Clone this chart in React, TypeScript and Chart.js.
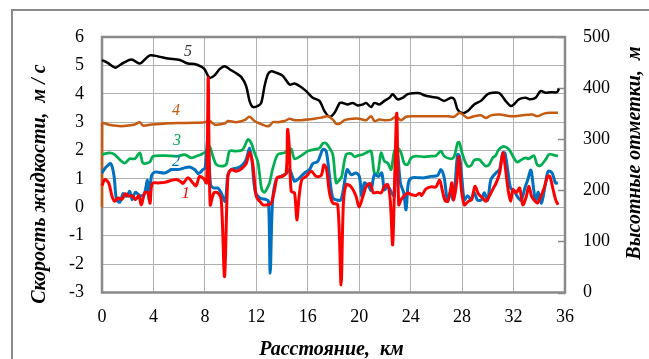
import React, { useEffect, useRef } from "react";
import { Chart, registerables } from "chart.js";

Chart.register(...registerables);

// ---- Data (distance in km, speed in m/s, elevation in m) ----
const kmRed = [0, 0.21, 0.52, 0.78, 0.99, 1.25, 1.56, 1.82, 2.08, 2.34, 2.6, 2.86, 3.06, 3.32, 3.58, 3.74, 3.9, 4.36, 4.88, 5.4, 5.79, 6.08, 6.29, 6.68, 7.07, 7.32, 7.58, 7.92, 8.13, 8.26, 8.41, 8.7, 9.01, 9.27, 9.53, 9.79, 10.05, 10.43, 10.82, 11.21, 11.47, 11.73, 11.99, 12.27, 12.51, 12.9, 13.16, 13.42, 13.62, 13.99, 14.32, 14.43, 14.56, 14.71, 14.97, 15.15, 15.33, 15.54, 15.88, 16.27, 16.65, 17.04, 17.25, 17.46, 17.69, 17.95, 18.33, 18.59, 18.77, 19.0, 19.37, 19.75, 19.99, 20.27, 20.53, 20.84, 21.1, 21.39, 21.7, 21.96, 22.22, 22.42, 22.6, 22.76, 22.92, 23.07, 23.25, 23.46, 23.77, 24.03, 24.42, 24.7, 24.85, 25.19, 25.58, 25.96, 26.25, 26.46, 26.66, 26.87, 27.05, 27.21, 27.36, 27.57, 27.75, 27.93, 28.17, 28.48, 28.74, 29.0, 29.26, 29.59, 29.85, 30.11, 30.4, 30.65, 30.91, 31.17, 31.38, 31.58, 31.77, 31.95, 32.21, 32.47, 32.72, 32.98, 33.19, 33.4, 33.61, 33.86, 34.12, 34.38, 34.64, 34.82, 35.05, 35.26, 35.45];
const speedRed = [0.76, 0.98, 0.86, 0.39, 0.21, 0.33, 0.29, 0.48, 0.39, 0.41, 0.27, 0.41, 0.09, 0.51, 0.51, 0.15, 0.84, 0.86, 0.88, 0.95, 0.98, 0.92, 0.84, 1.04, 0.86, 0.76, 1.09, 1.0, 0.86, 4.56, 0.09, 0.51, 0.51, 0.27, -2.44, 1.09, 1.33, 1.27, 1.35, 1.54, 1.94, 1.5, 0.39, 0.21, 0.09, 0.09, 0.15, 0.62, 1.04, 1.09, 1.21, 2.74, 2.15, 0.56, 0.51, -0.44, 0.39, 0.98, 1.09, 1.27, 1.09, 1.12, 1.5, 1.33, 0.51, 0.15, 0.09, -2.73, 0.15, 0.8, 0.72, 0.39, 0.01, 0.36, 0.72, 0.84, 0.51, 0.53, 0.51, 0.74, 0.8, 0.21, -1.32, 1.09, 3.31, 0.09, 0.27, 0.39, 0.51, 0.45, 0.42, 0.5, 0.42, 0.65, 0.72, 0.72, 0.95, 0.6, 0.25, 0.21, 0.51, 0.86, 0.25, 0.86, 1.78, 0.68, 0.09, 0.21, 0.27, 0.74, 0.48, 0.33, 0.21, 0.39, 0.65, 0.86, 1.2, 1.92, 1.33, 0.6, 0.21, 0.62, 0.51, 0.68, 0.09, 0.36, 0.74, 0.39, 0.25, 0.15, 0.39, 0.68, 1.09, 1.09, 0.68, 0.29, 0.09];

const kmBlue = [0, 0.26, 0.68, 0.94, 1.12, 1.38, 1.64, 1.9, 2.16, 2.34, 2.6, 2.94, 3.27, 3.53, 3.66, 3.84, 4.1, 4.88, 5.4, 5.9, 6.42, 6.81, 7.2, 7.51, 7.84, 8.02, 8.23, 8.44, 8.7, 9.01, 9.27, 9.58, 9.79, 10.05, 10.56, 10.95, 11.21, 11.47, 11.65, 11.91, 12.27, 12.77, 12.95, 13.08, 13.26, 13.55, 13.93, 14.32, 14.58, 14.97, 15.36, 15.75, 16.14, 16.39, 16.78, 17.17, 17.43, 17.69, 17.95, 18.33, 18.59, 18.85, 19.06, 19.37, 19.75, 20.01, 20.2, 20.4, 20.71, 20.92, 21.18, 21.49, 21.75, 21.96, 22.22, 22.53, 22.73, 22.94, 23.2, 23.46, 23.64, 23.82, 24.08, 24.7, 25.06, 25.58, 26.09, 26.35, 26.61, 26.87, 27.13, 27.29, 27.44, 27.65, 27.8, 27.99, 28.17, 28.43, 28.69, 28.94, 29.2, 29.51, 29.72, 29.98, 30.24, 30.63, 30.91, 31.17, 31.33, 31.56, 31.77, 32.02, 32.28, 32.59, 32.88, 33.11, 33.35, 33.55, 33.73, 33.92, 34.17, 34.49, 34.69, 35.0, 35.26, 35.45];
const speedBlue = [1.21, 1.39, 1.54, 1.09, 0.29, 0.18, 0.48, 0.39, 0.56, 0.27, 0.53, 0.41, 0.45, 0.95, 0.27, 1.09, 1.24, 1.21, 1.33, 1.33, 1.39, 1.42, 1.33, 1.19, 1.33, 1.39, 2.39, 0.8, 0.68, 0.68, 0.51, 0.21, 1.15, 1.33, 1.39, 1.51, 1.68, 2.09, 1.68, 0.56, 0.33, 0.27, 0.21, -2.32, 0.21, 0.98, 1.09, 1.19, 1.33, 0.92, 1.04, 1.21, 1.33, 1.54, 1.62, 2.04, 1.98, 1.09, 0.33, 0.25, 0.27, 0.86, 1.33, 1.15, 1.21, 1.09, 0.39, 0.86, 0.76, 0.6, 1.15, 1.09, 1.21, 0.62, 0.74, 0.51, 0.39, 2.04, 0.86, 0.51, -0.08, 0.86, 1.04, 1.04, 1.04, 1.09, 1.12, 1.33, 1.04, 0.21, 0.6, 0.27, 0.74, 1.86, 1.8, 0.98, 0.27, 0.41, 0.27, 0.51, 0.25, 0.27, 0.51, 0.25, 0.98, 1.21, 1.33, 1.92, 1.92, 1.27, 0.68, 0.6, 0.39, 0.25, 0.68, 0.98, 1.31, 0.68, 0.21, 0.53, 0.15, 0.86, 1.27, 1.21, 0.86, 0.86];

const kmGreen = [0, 0.6, 0.99, 1.38, 1.77, 2.16, 2.55, 2.94, 3.19, 3.71, 3.97, 4.88, 5.9, 6.42, 6.94, 7.32, 7.71, 8.1, 8.36, 8.62, 8.88, 9.27, 9.66, 9.92, 10.43, 10.95, 11.34, 11.6, 11.86, 12.12, 12.27, 12.43, 12.64, 12.85, 13.03, 13.29, 13.67, 14.19, 14.45, 14.71, 14.97, 15.49, 16.01, 16.52, 16.91, 17.17, 17.43, 17.69, 17.95, 18.21, 18.49, 18.64, 18.98, 19.37, 19.63, 19.88, 20.27, 20.53, 20.92, 21.18, 21.44, 21.7, 21.96, 22.22, 22.48, 22.73, 22.99, 23.25, 23.51, 23.77, 24.03, 24.42, 25.06, 25.58, 25.96, 26.35, 26.61, 27.13, 27.39, 27.65, 27.78, 27.96, 28.17, 28.43, 28.69, 28.94, 29.33, 29.59, 29.85, 30.11, 30.37, 30.6, 30.86, 31.25, 31.64, 32.02, 32.28, 32.54, 32.93, 33.19, 33.58, 33.84, 34.1, 34.49, 34.75, 35.0, 35.45];
const speedGreen = [1.86, 1.92, 1.86, 1.68, 1.56, 1.71, 1.71, 1.92, 1.56, 1.59, 1.8, 1.82, 1.8, 1.86, 1.74, 1.8, 1.86, 1.98, 2.15, 1.8, 1.51, 1.45, 1.51, 1.98, 1.98, 2.04, 2.39, 2.27, 1.92, 1.6, 1.1, 0.62, 0.53, 0.68, 0.86, 1.39, 1.86, 1.92, 2.01, 2.06, 1.71, 1.82, 1.98, 2.04, 2.09, 2.25, 2.25, 2.09, 1.86, 0.86, 0.98, 1.09, 1.86, 1.89, 1.78, 1.82, 1.86, 1.92, 1.98, 1.2, 1.22, 1.92, 1.62, 1.56, 1.33, 1.98, 2.09, 1.92, 1.54, 1.51, 1.74, 1.8, 1.78, 1.8, 1.82, 1.98, 1.8, 1.71, 1.8, 2.27, 2.29, 1.98, 1.68, 1.45, 1.47, 1.66, 1.68, 1.56, 1.45, 1.51, 1.74, 1.82, 2.04, 2.15, 2.04, 1.74, 1.59, 1.66, 1.74, 1.71, 1.82, 1.5, 1.47, 1.68, 1.86, 1.86, 1.8];

const kmOrange = [0, 0.01, 0.47, 0.99, 1.5, 2.03, 2.55, 2.94, 3.19, 3.84, 4.88, 5.9, 7.2, 7.97, 8.36, 8.75, 9.53, 9.79, 10.43, 11.08, 11.47, 11.86, 12.27, 12.77, 13.03, 13.29, 13.67, 14.19, 14.58, 14.97, 15.49, 16.01, 16.52, 17.04, 17.56, 17.95, 18.21, 18.49, 18.85, 19.5, 20.01, 20.53, 20.92, 21.18, 21.57, 21.96, 22.48, 22.86, 23.25, 23.64, 24.16, 24.7, 25.32, 26.09, 26.87, 27.39, 27.78, 28.04, 28.43, 28.94, 29.46, 29.85, 30.24, 30.91, 31.77, 32.15, 32.67, 33.45, 33.84, 34.36, 34.87, 35.45];
const speedOrange = [0, 2.95, 2.92, 2.88, 2.86, 2.88, 2.92, 3.0, 2.88, 2.92, 2.95, 2.97, 2.98, 3.0, 3.04, 2.92, 2.95, 3.04, 3.0, 3.07, 3.19, 3.04, 2.95, 2.86, 2.88, 3.0, 3.0, 3.04, 3.12, 3.07, 3.07, 3.09, 3.12, 3.16, 3.21, 3.09, 2.95, 2.95, 3.07, 3.12, 3.12, 3.07, 3.21, 3.04, 3.09, 3.07, 3.09, 3.2, 3.07, 3.19, 3.21, 3.21, 3.21, 3.21, 3.21, 3.19, 3.33, 3.27, 3.15, 3.21, 3.24, 3.15, 3.24, 3.27, 3.21, 3.21, 3.24, 3.27, 3.21, 3.3, 3.33, 3.33];

const kmBlack = [0, 0.47, 1.04, 1.5, 2.29, 2.94, 3.71, 4.36, 5.14, 6.05, 6.68, 7.2, 7.71, 7.97, 8.36, 8.75, 9.14, 9.53, 9.92, 10.43, 10.82, 11.21, 11.47, 11.73, 12.12, 12.38, 12.64, 12.9, 13.16, 13.55, 14.06, 14.58, 14.97, 15.36, 15.88, 16.39, 16.91, 17.3, 17.69, 18.08, 18.49, 18.72, 19.1, 19.5, 19.88, 20.27, 20.53, 20.92, 21.18, 21.57, 21.96, 22.35, 22.6, 22.99, 23.38, 23.77, 24.16, 24.7, 25.06, 25.58, 26.09, 26.61, 27.13, 27.39, 27.65, 28.04, 28.43, 28.94, 29.46, 29.98, 30.37, 30.91, 31.38, 31.77, 32.02, 32.41, 32.93, 33.32, 33.71, 34.1, 34.49, 34.87, 35.39, 35.52];
const elevBlack = [455, 449, 440, 447, 456, 448, 464, 462, 458, 455, 448, 447, 442, 437, 420, 425, 437, 443, 437, 429, 422, 404, 375, 363, 365, 371, 404, 427, 433, 430, 424, 407, 409, 404, 394, 381, 375, 355, 344, 352, 371, 371, 368, 371, 366, 368, 371, 363, 371, 368, 375, 381, 388, 378, 381, 388, 390, 390, 386, 383, 381, 375, 381, 378, 358, 351, 355, 368, 375, 388, 391, 390, 375, 365, 368, 378, 381, 378, 381, 394, 391, 392, 392, 399];

// Series number labels: [text, km, speed]
const seriesLabels = ["1", "2", "3", "4", "5"];
const labelKm = [6.52, 5.75, 5.83, 5.75, 6.68];
const labelSpeed = [0.49, 1.62, 2.36, 3.39, 5.47];

const speedMin = -3, speedMax = 6, speedStep = 1;
const elevMin = 0, elevMax = 500, elevStep = 100;
const kmMin = 0, kmMax = 36, kmStep = 4;

const xTitle = "Расстояние,  км";
const yTitle = "Скорость жидкости,  м / с";
const y2Title = "Высотные отметки,  м";

const COLORS = ["#ff0000", "#0070c0", "#00b050", "#c55a11", "#000000"];
const LABEL_COLORS = ["#ff0000", "#0070c0", "#00b050", "#c55a11", "#333333"];

const W = 649, H = 359;
const SERIF = "'Liberation Serif', serif";

function pts(xs: number[], ys: number[]) {
  return xs.map((x, i) => ({ x, y: ys[i] }));
}

const decor = {
  id: "decor",
  beforeDatasetsDraw(chart: any) {
    const { ctx, chartArea } = chart;
    const { left, right, top, bottom } = chartArea;
    ctx.save();
    // inner tick marks of the right axis
    const y2 = chart.scales.y2;
    ctx.strokeStyle = "#8a8a8a";
    ctx.lineWidth = 1.5;
    for (let v = elevMin; v <= elevMax; v += elevStep) {
      const py = Math.round(y2.getPixelForValue(v)) + 0.5;
      ctx.beginPath();
      ctx.moveTo(right - 7, py);
      ctx.lineTo(right, py);
      ctx.stroke();
    }
    // plot border
    ctx.strokeStyle = "#8a8a8a";
    ctx.lineWidth = 2.5;
    ctx.strokeRect(left, top, right - left, bottom - top);
    // outer frame
    ctx.lineWidth = 2;
    ctx.beginPath();
    ctx.moveTo(12, H);
    ctx.lineTo(12, 10);
    ctx.lineTo(W, 10);
    ctx.stroke();
    ctx.restore();
  },
  afterDraw(chart: any) {
    const { ctx, chartArea } = chart;
    const xs = chart.scales.x;
    const ys = chart.scales.y;
    ctx.save();
    ctx.fillStyle = "#000";
    ctx.textAlign = "center";
    ctx.textBaseline = "middle";
    ctx.font = `italic bold 20px ${SERIF}`;
    ctx.fillText(xTitle, (chartArea.left + chartArea.right) / 2 - 2, 350);
    ctx.save();
    ctx.translate(40, 184);
    ctx.rotate(-Math.PI / 2);
    ctx.fillText(yTitle, 0, 0);
    ctx.restore();
    ctx.save();
    ctx.translate(635, 153);
    ctx.rotate(-Math.PI / 2);
    ctx.fillText(y2Title, 0, 0);
    ctx.restore();
    ctx.font = `italic 16px ${SERIF}`;
    seriesLabels.forEach((t, i) => {
      ctx.fillStyle = LABEL_COLORS[i];
      ctx.fillText(t, xs.getPixelForValue(labelKm[i]), ys.getPixelForValue(labelSpeed[i]));
    });
    ctx.restore();
  },
};

export default function App() {
  const ref = useRef<HTMLCanvasElement | null>(null);
  useEffect(() => {
    if (!ref.current) return;
    const tickFont = { family: SERIF, size: 18 };
    const grid = { color: "#b0b0b0", lineWidth: 1, drawTicks: false };
    const mk = (label: string, data: any, i: number, width: number, axis: string) => ({
      label,
      data,
      borderColor: COLORS[i],
      backgroundColor: COLORS[i],
      borderWidth: width,
      pointRadius: 0,
      tension: 0.3,
      yAxisID: axis,
      clip: 6,
    });
    const chart = new Chart(ref.current, {
      type: "line",
      data: {
        datasets: [
          mk("1", pts(kmRed, speedRed), 0, 3, "y"),
          mk("2", pts(kmBlue, speedBlue), 1, 3, "y"),
          mk("3", pts(kmGreen, speedGreen), 2, 2.75, "y"),
          mk("4", pts(kmOrange, speedOrange), 3, 2.5, "y"),
          mk("5", pts(kmBlack, elevBlack), 4, 2.5, "y2"),
        ],
      },
      options: {
        animation: false,
        responsive: false,
        maintainAspectRatio: false,
        devicePixelRatio: 1,
        layout: { padding: { top: 37, left: 0, right: 0, bottom: 0 } },
        plugins: { legend: { display: false }, tooltip: { enabled: false } },
        scales: {
          x: {
            type: "linear",
            min: kmMin,
            max: kmMax,
            ticks: { stepSize: kmStep, font: tickFont, color: "#000", padding: 14, maxRotation: 0 },
            grid,
            border: { display: false },
            afterFit: (s: any) => { s.height = 66.5; },
          },
          y: {
            type: "linear",
            position: "left",
            min: speedMin,
            max: speedMax,
            ticks: { stepSize: speedStep, font: tickFont, color: "#000", padding: 18 },
            grid,
            border: { display: false },
            afterFit: (s: any) => { s.width = 102; },
          },
          y2: {
            type: "linear",
            position: "right",
            min: elevMin,
            max: elevMax,
            ticks: { stepSize: elevStep, font: tickFont, color: "#000", padding: 18 },
            grid: { drawOnChartArea: false, drawTicks: false },
            border: { display: false },
            afterFit: (s: any) => { s.width = 84; },
          },
        },
      } as any,
      plugins: [decor],
    });
    return () => chart.destroy();
  }, []);
  return (
    <div style={{ position: "fixed", left: 0, top: 0, width: W, height: H, background: "#fff" }}>
      <canvas ref={ref} width={W} height={H} style={{ width: W, height: H, display: "block" }} />
    </div>
  );
}
